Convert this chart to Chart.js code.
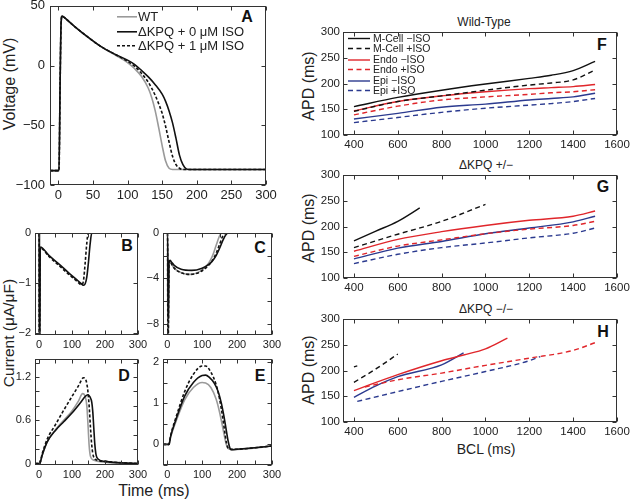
<!DOCTYPE html>
<html><head><meta charset="utf-8">
<script src="https://cdn.jsdelivr.net/npm/chart.js@4.4.1/dist/chart.umd.min.js"></script>
<style>
html,body{margin:0;padding:0;width:633px;height:501px;overflow:hidden;background:#fff;font-family:"Liberation Sans",Arial,Helvetica,sans-serif;color:#222}
.lbl{position:absolute;white-space:nowrap;color:#222;line-height:1}
.rot{transform:translate(-50%,-50%) rotate(-90deg)}
.ctr{transform:translate(-50%,-50%)}
.let{position:absolute;font-weight:bold;font-size:16px;transform:translate(-50%,-50%);line-height:1;color:#111}
</style></head><body>
<div class="lbl rot" style="left:10px;top:84px;font-size:16px">Voltage (mV)</div>
<div class="lbl rot" style="left:9px;top:333px;font-size:15.5px">Current (μA/μF)</div>
<div class="lbl ctr" style="left:154px;top:491px;font-size:16px">Time (ms)</div>
<div class="lbl rot" style="left:309px;top:86px;font-size:16px">APD (ms)</div>
<div class="lbl rot" style="left:309px;top:228px;font-size:16px">APD (ms)</div>
<div class="lbl rot" style="left:309px;top:370px;font-size:16px">APD (ms)</div>
<div class="lbl ctr" style="left:484px;top:22px;font-size:12px">Wild-Type</div>
<div class="lbl ctr" style="left:486px;top:165px;font-size:12px">ΔKPQ +/−</div>
<div class="lbl ctr" style="left:486px;top:309px;font-size:12px">ΔKPQ −/−</div>
<div class="lbl ctr" style="left:486px;top:449px;font-size:14px">BCL (ms)</div>
<div class="let" style="left:247px;top:17px">A</div>
<div class="let" style="left:127px;top:246px">B</div>
<div class="let" style="left:260px;top:248px">C</div>
<div class="let" style="left:124px;top:376px">D</div>
<div class="let" style="left:260px;top:376px">E</div>
<div class="let" style="left:602px;top:45px">F</div>
<div class="let" style="left:603px;top:187px">G</div>
<div class="let" style="left:603px;top:332px">H</div>
<script>
// ---------- Panel A: action potentials (time ms, voltage mV) ----------
const tA_WT = [-12, 1, 2.5, 4, 5.5, 8, 15, 25, 40, 60, 80, 100, 110, 120, 130, 135, 140, 145, 150, 155, 160, 165, 180, 300];
const vA_WT = [-88, -88, -20, 35, 41.5, 40.5, 37, 32, 25, 16.5, 9.5, 2.5, -2.5, -9, -19, -27, -38, -52, -67, -80, -86, -87, -87, -87];
const tA_0 = [-12, 1, 2.5, 4, 5.5, 8, 15, 25, 40, 60, 80, 100, 110, 120, 130, 140, 150, 155, 160, 165, 170, 175, 180, 185, 190, 200, 300];
const vA_0 = [-88, -88, -20, 35, 41.5, 40.5, 37, 32, 25, 16.5, 10, 4.5, 1, -4, -9.5, -16, -24, -30, -38, -48, -61, -75, -83, -86.5, -87, -87, -87];
const tA_1 = [-12, 1, 2.5, 4, 5.5, 8, 15, 25, 40, 60, 80, 100, 110, 120, 130, 140, 145, 150, 155, 160, 165, 170, 175, 180, 200, 300];
const vA_1 = [-88, -88, -20, 35, 41.5, 40.5, 37, 32, 25, 16.5, 10, 3.5, -0.5, -6.5, -14, -25, -32, -40, -51, -64, -76, -83, -86, -87, -87, -87];
const xTickA = [0, 50, 100, 150, 200, 250, 300];
const xLabA = ['0', '50', '100', '150', '200', '250', '300'];
const yTickA = [-100, -50, 0, 50];
const yLabA = ['−100', '−50', '0', '50'];

// ---------- Panel B ----------
const tB_WT = [-12, 0, 0.8, 1.6, 2.5, 300];
const vB_WT = [0, 0, -2.4, -2.4, 0, 0];
const tB_0 = [-12, 1, 1.5, 2.5, 4, 30, 60, 90, 115, 130, 135, 140, 145, 150, 155, 160, 300];
const vB_0 = [0, 0, -2.4, -2.4, -0.28, -0.45, -0.62, -0.8, -0.94, -1.03, -1.05, -1.02, -0.88, -0.58, -0.22, 0, 0];
const tB_1 = [-12, 0.5, 1, 2, 3.5, 30, 60, 90, 115, 125, 130, 135, 140, 145, 149, 300];
const vB_1 = [0, 0, -2.4, -2.4, -0.3, -0.47, -0.65, -0.83, -0.97, -1.03, -1.04, -0.95, -0.6, -0.2, 0, 0];
const yTickB = [-2, -1, 0];
const yLabB = ['−2', '−1', '0'];

// ---------- Panel C ----------
const tC_WT = [-12, 1, 2, 3, 5, 8, 12, 20, 40, 65, 90, 110, 120, 130, 140, 148, 156, 300];
const vC_WT = [0, 0, -9.5, -9.5, -2.6, -2.45, -2.7, -3.1, -3.5, -3.65, -3.45, -3.0, -2.6, -2.0, -1.1, -0.4, 0, 0];
const tC_0 = [-12, 1.5, 2.5, 3.5, 5, 8, 12, 20, 40, 70, 100, 120, 130, 140, 150, 160, 168, 176, 300];
const vC_0 = [0, 0, -7.5, -7.5, -2.6, -2.4, -2.55, -2.85, -3.2, -3.3, -3.1, -2.75, -2.45, -2.0, -1.35, -0.6, -0.15, 0, 0];
const tC_1 = [-12, 1, 2, 3, 5, 8, 12, 20, 40, 65, 90, 110, 120, 130, 140, 150, 158, 166, 300];
const vC_1 = [0, 0, -9.5, -9.5, -2.6, -2.45, -2.7, -3.1, -3.5, -3.65, -3.5, -3.1, -2.8, -2.4, -1.8, -1.0, -0.35, 0, 0];
const yTickC = [-8, -4, 0];
const yLabC = ['−8', '−4', '0'];

// ---------- Panel D ----------
const tD_WT = [-12, 2, 10, 25, 50, 75, 100, 120, 132, 140, 145, 149, 152, 156, 165, 200, 300];
const vD_WT = [0, 0, 0.12, 0.3, 0.47, 0.6, 0.73, 0.87, 0.97, 0.93, 0.8, 0.5, 0.25, 0.1, 0.05, 0.02, 0];
const tD_0 = [-12, 2, 10, 25, 50, 75, 100, 125, 140, 148, 155, 160, 163, 166, 169, 173, 180, 200, 250, 300];
const vD_0 = [0, 0, 0.12, 0.3, 0.46, 0.58, 0.7, 0.84, 0.93, 0.955, 0.92, 0.85, 0.72, 0.5, 0.28, 0.12, 0.06, 0.03, 0.01, 0];
const tD_1 = [-12, 2, 10, 25, 50, 75, 100, 120, 135, 140, 147, 152, 156, 160, 165, 175, 200, 300];
const vD_1 = [0, 0, 0.14, 0.34, 0.54, 0.74, 0.93, 1.08, 1.19, 1.18, 1.05, 0.8, 0.5, 0.25, 0.1, 0.05, 0.03, 0];
const yTickD = [0, 0.6, 1.2];
const yLabD = ['0', '0.6', '1.2'];

// ---------- Panel E ----------
const tE_WT = [-12, 5, 10, 25, 50, 75, 100, 110, 125, 140, 150, 158, 165, 170, 175, 185, 200, 300];
const vE_WT = [0, 0, 0.18, 0.55, 1.08, 1.38, 1.5, 1.49, 1.38, 1.1, 0.78, 0.45, 0.15, -0.02, -0.1, -0.12, -0.12, -0.04];
const tE_0 = [-12, 5, 10, 25, 50, 75, 100, 110, 120, 135, 145, 155, 162, 168, 174, 180, 185, 200, 250, 300];
const vE_0 = [0, 0, 0.2, 0.6, 1.17, 1.5, 1.67, 1.68, 1.63, 1.48, 1.3, 1.0, 0.7, 0.4, 0.1, -0.1, -0.13, -0.12, -0.08, -0.04];
const tE_1 = [-12, 5, 10, 25, 50, 75, 100, 110, 125, 140, 150, 158, 164, 170, 175, 185, 300];
const vE_1 = [0, 0, 0.22, 0.65, 1.28, 1.7, 1.9, 1.9, 1.75, 1.45, 1.1, 0.7, 0.35, 0.02, -0.1, -0.12, -0.04];
const yTickE = [0, 1, 2];
const yLabE = ['0', '1', '2'];

const xTickBE = [0, 100, 200, 300];
const xLabBE = ['0', '100', '200', '300'];

// ---------- Panels F/G/H: APD vs BCL ----------
const bclF = [400, 600, 800, 1000, 1200, 1300, 1400, 1500];
const F_mNo  = [155, 173, 187, 199, 210, 216, 225, 243];
const F_mIso = [146, 165, 176, 187, 197, 201, 207, 226];
const F_enNo = [147, 165, 176, 184, 190, 192, 194, 198];
const F_enIso= [139, 156, 168, 174, 179, 182, 184, 188];
const F_epNo = [131, 142, 154, 160, 168, 171, 174, 181];
const F_epIso= [124, 134, 144, 152, 158, 161, 165, 171];

const bclG = [400, 600, 800, 1000, 1200, 1400, 1500];
const G_mNoX = [400, 500, 600, 700];
const G_mNo  = [172, 191, 210, 236];
const G_mIsoX = [400, 600, 800, 1000];
const G_mIso = [159, 185, 210, 243];
const G_enNo = [152, 175, 190, 202, 212, 220, 230];
const G_enIso= [142, 162, 174, 186, 195, 202, 210];
const G_epNo = [137, 158, 171, 186, 197, 209, 220];
const G_epIso= [128, 146, 159, 168, 178, 187, 197];

const H_mNoX = [400, 415];
const H_mNo  = [207, 209];
const H_mIsoX = [400, 500, 600];
const H_mIso = [177, 203, 232];
const H_enNoX = [400, 600, 800, 900, 1000, 1100];
const H_enNo = [161, 192, 219, 230, 242, 263];
const H_enIsoX = [450, 600, 800, 1000, 1200, 1400, 1500];
const H_enIso = [168, 182, 195, 210, 224, 239, 254];
const H_epNoX = [400, 500, 600, 800, 900];
const H_epNo = [148, 170, 188, 211, 234];
const H_epIsoX = [415, 600, 800, 1000, 1200, 1250];
const H_epIso = [140, 159, 179, 198, 219, 227];

const xTickR = [400, 600, 800, 1000, 1200, 1400, 1600];
const xLabR = ['400', '600', '800', '1000', '1200', '1400', '1600'];
const yTickR = [100, 150, 200, 250, 300];
const yLabR = ['100', '150', '200', '250', '300'];

// ---------- styling ----------
const FONT = '"Liberation Sans", Arial, Helvetica, sans-serif';
const GRAY = '#9a9a9a', BLACK = '#111111', RED = '#e0262b', BLUE = '#2b3a8f';

function ser(xs, ys, color, dash, w) {
  return { data: xs.map((x, i) => ({ x: x, y: ys[i] })), borderColor: color, borderDash: dash || [],
           borderWidth: w || 1.5, fill: false, pointRadius: 0, cubicInterpolationMode: 'monotone' };
}

const boxPlugin = {
  id: 'mbox',
  afterDatasetsDraw(chart, args, o) {
    const { ctx, chartArea: a } = chart;
    const x = chart.scales.x, y = chart.scales.y;
    ctx.save();
    ctx.strokeStyle = '#333'; ctx.lineWidth = 1;
    const L = Math.round(a.left) + 0.5, R = Math.round(a.right) - 0.5, T = Math.round(a.top) + 0.5, B = Math.round(a.bottom) - 0.5;
    ctx.strokeRect(L, T, R - L, B - T);
    const len = o.len || 4;
    ctx.beginPath();
    (o.xm || []).forEach(v => {
      const p = Math.round(x.getPixelForValue(v)) + 0.5;
      ctx.moveTo(p, B); ctx.lineTo(p, B - len);
      ctx.moveTo(p, T); ctx.lineTo(p, T + len);
    });
    (o.ym || []).forEach(v => {
      const p = Math.round(y.getPixelForValue(v)) + 0.5;
      ctx.moveTo(L, p); ctx.lineTo(L + len, p);
      ctx.moveTo(R, p); ctx.lineTo(R - len, p);
    });
    ctx.stroke();
    ctx.restore();
  }
};

const legPlugin = {
  id: 'mleg',
  afterDraw(chart, args, o) {
    if (!o || !o.items) return;
    const { ctx, chartArea: a } = chart;
    ctx.save();
    ctx.font = o.size + 'px ' + FONT;
    ctx.textBaseline = 'middle';
    o.items.forEach((it, i) => {
      const yy = a.top + o.rows[i];
      const x0 = a.left + o.dx;
      ctx.strokeStyle = it.color; ctx.lineWidth = it.w || 1.5;
      ctx.setLineDash(it.dash || []);
      ctx.beginPath(); ctx.moveTo(x0, yy); ctx.lineTo(x0 + o.len, yy); ctx.stroke();
      ctx.setLineDash([]);
      ctx.fillStyle = '#222';
      ctx.fillText(it.label, x0 + o.len + o.gap, yy + 0.5);
    });
    ctx.restore();
  }
};

function panel(rect, c) {
  const pt = 12, pr = 22;
  const W = rect.r - rect.l + c.yw + pr, H = rect.b - rect.t + pt + c.xh;
  const cv = document.createElement('canvas');
  cv.width = W; cv.height = H;
  cv.style.position = 'absolute';
  cv.style.left = (rect.l - c.yw) + 'px';
  cv.style.top = (rect.t - pt) + 'px';
  cv.style.width = W + 'px'; cv.style.height = H + 'px';
  document.body.appendChild(cv);
  new Chart(cv, {
    type: 'line',
    data: { datasets: c.datasets },
    options: {
      responsive: false, animation: false, devicePixelRatio: 1,
      layout: { padding: { top: pt, right: pr, left: 0, bottom: 0 } },
      plugins: { legend: { display: false }, tooltip: { enabled: false },
                 mbox: { xm: c.xm, ym: c.ym, len: 4 }, mleg: c.legend || {} },
      scales: {
        x: { type: 'linear', min: c.xmin, max: c.xmax, bounds: 'data',
             grid: { display: false, drawTicks: false }, border: { display: false },
             afterBuildTicks: s => { s.ticks = c.xt.map(v => ({ value: v })); },
             afterFit: s => { s.height = c.xh; },
             ticks: { padding: c.xpad || 3, font: { family: FONT, size: c.fs }, color: '#222',
                      maxRotation: 0, autoSkip: false, callback: (v, i) => c.xl[i] } },
        y: { type: 'linear', min: c.ymin, max: c.ymax, bounds: 'data',
             grid: { display: false, drawTicks: false }, border: { display: false },
             afterBuildTicks: s => { s.ticks = c.yt.map(v => ({ value: v })); },
             afterFit: s => { s.width = c.yw; },
             ticks: { padding: c.ypad || 4, font: { family: FONT, size: c.fs }, color: '#222',
                      autoSkip: false, callback: (v, i) => c.yl[i] } }
      }
    },
    plugins: [boxPlugin, legPlugin]
  });
}

const minorX = [0, 50, 100, 150, 200, 250, 300];

// Panel A
panel({ l: 50, t: 5, r: 266, b: 185 }, {
  yw: 44, xh: 22, fs: 13, xmin: -12, xmax: 300, ymin: -100, ymax: 50,
  xt: xTickA, xl: xLabA, yt: yTickA, yl: yLabA, xm: xTickA, ym: yTickA, xpad: 3, ypad: 5,
  datasets: [ser(tA_0, vA_0, BLACK, [], 1.6), ser(tA_1, vA_1, BLACK, [3, 2], 1.6), ser(tA_WT, vA_WT, GRAY, [], 1.6)],
  legend: { dx: 67, len: 20, gap: 1, size: 13, rows: [11, 26, 40],
            items: [{ label: 'WT', color: GRAY, w: 1.6 }, { label: 'ΔKPQ + 0 μM ISO', color: BLACK, w: 1.6 },
                    { label: 'ΔKPQ + 1 μM ISO', color: BLACK, dash: [3, 2], w: 1.6 }] }
});
// Panel B
panel({ l: 35, t: 233, r: 138, b: 335 }, {
  yw: 32, xh: 20, fs: 11, xmin: -12, xmax: 300, ymin: -2.05, ymax: 0,
  xt: xTickBE, xl: xLabBE, yt: yTickB, yl: yLabB, xm: minorX, ym: yTickB,
  datasets: [ser(tB_0, vB_0, BLACK, [], 1.6), ser(tB_1, vB_1, BLACK, [3, 2], 1.6), ser(tB_WT, vB_WT, GRAY, [], 1.6)]
});
// Panel C
panel({ l: 163, t: 233, r: 272, b: 335 }, {
  yw: 32, xh: 20, fs: 11, xmin: -12, xmax: 300, ymin: -9, ymax: 0,
  xt: xTickBE, xl: xLabBE, yt: yTickC, yl: yLabC, xm: minorX, ym: [-8, -6, -4, -2, 0],
  datasets: [ser(tC_0, vC_0, BLACK, [], 1.6), ser(tC_1, vC_1, BLACK, [3, 2], 1.6), ser(tC_WT, vC_WT, GRAY, [], 1.6)]
});
// Panel D
panel({ l: 35, t: 359, r: 138, b: 465 }, {
  yw: 32, xh: 20, fs: 11, xmin: -12, xmax: 300, ymin: -0.02, ymax: 1.45,
  xt: xTickBE, xl: xLabBE, yt: yTickD, yl: yLabD, xm: minorX, ym: [0, 0.2, 0.4, 0.6, 0.8, 1.0, 1.2, 1.4],
  datasets: [ser(tD_0, vD_0, BLACK, [], 1.6), ser(tD_1, vD_1, BLACK, [3, 2], 1.6), ser(tD_WT, vD_WT, GRAY, [], 1.6)]
});
// Panel E
panel({ l: 163, t: 359, r: 272, b: 465 }, {
  yw: 32, xh: 20, fs: 11, xmin: -12, xmax: 300, ymin: -0.5, ymax: 2.07,
  xt: xTickBE, xl: xLabBE, yt: yTickE, yl: yLabE, xm: minorX, ym: [-0.5, 0, 0.5, 1, 1.5, 2],
  datasets: [ser(tE_0, vE_0, BLACK, [], 1.6), ser(tE_1, vE_1, BLACK, [3, 2], 1.6), ser(tE_WT, vE_WT, GRAY, [], 1.6)]
});

const D5 = [5, 3.5];
// Panel F
panel({ l: 343, t: 32, r: 617, b: 135 }, {
  yw: 40, xh: 20, fs: 11.5, xmin: 350, xmax: 1600, ymin: 100, ymax: 300,
  xt: xTickR, xl: xLabR, yt: yTickR, yl: yLabR, xm: xTickR, ym: yTickR, ypad: 3,
  datasets: [ser(bclF, F_mNo, BLACK, [], 1.4), ser(bclF, F_mIso, BLACK, D5, 1.4),
             ser(bclF, F_enNo, RED, [], 1.4), ser(bclF, F_enIso, RED, D5, 1.4),
             ser(bclF, F_epNo, BLUE, [], 1.4), ser(bclF, F_epIso, BLUE, D5, 1.4)],
  legend: { dx: 5, len: 22, gap: 3, size: 10.5, rows: [6.5, 16.5, 28, 37.5, 49, 58.5],
            items: [{ label: 'M-Cell −ISO', color: BLACK, w: 1.4 }, { label: 'M-Cell +ISO', color: BLACK, dash: D5, w: 1.4 },
                    { label: 'Endo −ISO', color: RED, w: 1.4 }, { label: 'Endo +ISO', color: RED, dash: D5, w: 1.4 },
                    { label: 'Epi −ISO', color: BLUE, w: 1.4 }, { label: 'Epi +ISO', color: BLUE, dash: D5, w: 1.4 }] }
});
// Panel G
panel({ l: 343, t: 175, r: 617, b: 278 }, {
  yw: 40, xh: 20, fs: 11.5, xmin: 350, xmax: 1600, ymin: 100, ymax: 300,
  xt: xTickR, xl: xLabR, yt: yTickR, yl: yLabR, xm: xTickR, ym: yTickR, ypad: 3,
  datasets: [ser(G_mNoX, G_mNo, BLACK, [], 1.4), ser(G_mIsoX, G_mIso, BLACK, D5, 1.4),
             ser(bclG, G_enNo, RED, [], 1.4), ser(bclG, G_enIso, RED, D5, 1.4),
             ser(bclG, G_epNo, BLUE, [], 1.4), ser(bclG, G_epIso, BLUE, D5, 1.4)]
});
// Panel H
panel({ l: 343, t: 319, r: 617, b: 422 }, {
  yw: 40, xh: 20, fs: 11.5, xmin: 350, xmax: 1600, ymin: 100, ymax: 300,
  xt: xTickR, xl: xLabR, yt: yTickR, yl: yLabR, xm: xTickR, ym: yTickR, ypad: 3,
  datasets: [ser(H_mNoX, H_mNo, BLACK, D5, 1.4), ser(H_mIsoX, H_mIso, BLACK, D5, 1.4),
             ser(H_enNoX, H_enNo, RED, [], 1.4), ser(H_enIsoX, H_enIso, RED, D5, 1.4),
             ser(H_epNoX, H_epNo, BLUE, [], 1.4), ser(H_epIsoX, H_epIso, BLUE, D5, 1.4)]
});
</script>
</body></html>
